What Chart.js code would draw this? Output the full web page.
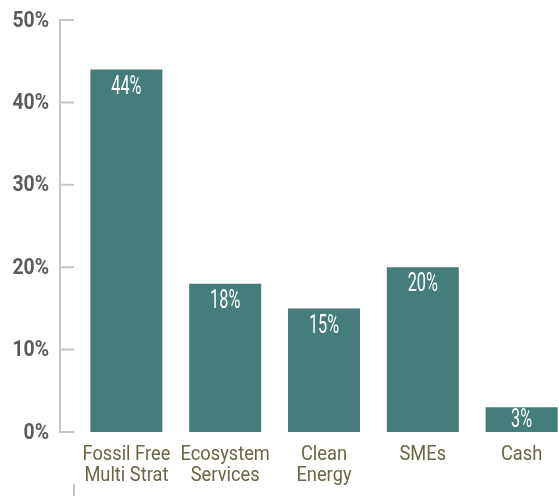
<!DOCTYPE html>
<html>
<head>
<meta charset="utf-8">
<script src="https://cdn.jsdelivr.net/npm/chart.js@4/dist/chart.umd.min.js"></script>
<style>
html,body{margin:0;padding:0;background:#fff;overflow:hidden;width:559px;height:496px;}
#wrap{position:relative;width:571px;height:496px;}
</style>
</head>
<body>
<div id="wrap"><canvas id="c" width="571" height="496"></canvas></div>
<script>
const categories = [["Fossil Free","Multi Strat"],["Ecosystem","Services"],["Clean","Energy"],["SMEs"],["Cash"]];
const allocation = [44, 18, 15, 20, 3];
const yTicks = [0, 10, 20, 30, 40, 50];

const FONT = "Roboto, 'Liberation Sans', sans-serif";

function condensedText(ctx, text, x, y, sx, align) {
  ctx.save();
  ctx.translate(x, y);
  ctx.scale(sx, 1);
  ctx.textAlign = align;
  ctx.fillText(text, 0, 0);
  ctx.restore();
}

const axisPlugin = {
  id: 'axisPlugin',
  afterDraw(chart) {
    const ctx = chart.ctx;
    const y = chart.scales.y;
    const x = chart.scales.x;
    const axX = 60, tickEnd = 74;
    ctx.save();
    ctx.strokeStyle = '#cdc4c0';
    ctx.lineWidth = 2;
    ctx.beginPath();
    ctx.moveTo(axX, y.getPixelForValue(yTicks[yTicks.length-1]));
    ctx.lineTo(axX, y.getPixelForValue(yTicks[0]));
    ctx.stroke();
    ctx.beginPath();
    yTicks.forEach(v => {
      const py = y.getPixelForValue(v);
      ctx.moveTo(axX - 1, py);
      ctx.lineTo(tickEnd, py);
    });
    ctx.stroke();
    ctx.beginPath();
    ctx.moveTo(tickEnd, chart.height - 12);
    ctx.lineTo(tickEnd, chart.height);
    ctx.stroke();

    // y tick labels
    ctx.fillStyle = '#5b5b5b';
    ctx.font = "bold 22px " + FONT;
    ctx.textBaseline = 'middle';
    yTicks.forEach(v => {
      condensedText(ctx, v + '%', 49, y.getPixelForValue(v) + 1, 0.88, 'right');
    });

    // x category labels
    ctx.fillStyle = '#6b6646';
    ctx.font = "21px " + FONT;
    ctx.textBaseline = 'alphabetic';
    categories.forEach((lines, i) => {
      const px = x.getPixelForValue(i);
      lines.forEach((t, j) => {
        condensedText(ctx, t, px, y.getPixelForValue(0) + 28 + j * 21, 0.87, 'center');
      });
    });

    // value labels
    const meta = chart.getDatasetMeta(0);
    ctx.fillStyle = '#ffffff';
    ctx.font = "25px " + FONT;
    ctx.textBaseline = 'middle';
    meta.data.forEach((bar, i) => {
      const top = bar.y, bottom = bar.base;
      const cy = Math.min(top + 18, (top + bottom) / 2 + 1);
      condensedText(ctx, allocation[i] + '%', bar.x, cy, 0.65, 'center');
    });
    ctx.restore();
  }
};

new Chart(document.getElementById('c'), {
  type: 'bar',
  data: {
    labels: categories,
    datasets: [{
      data: allocation,
      backgroundColor: '#447d79',
      borderWidth: 0,
      categoryPercentage: 1,
      barPercentage: 0.729
    }]
  },
  options: {
    responsive: false,
    animation: false,
    layout: { padding: { top: 20, right: 0, left: 0, bottom: 0 } },
    plugins: { legend: { display: false }, tooltip: { enabled: false } },
    scales: {
      x: {
        grid: { display: false },
        border: { display: false },
        ticks: { display: false },
        afterFit(s) { s.height = 64; }
      },
      y: {
        min: 0, max: 50,
        grid: { display: false },
        border: { display: false },
        ticks: { display: false, stepSize: 10 },
        afterFit(s) { s.width = 77; }
      }
    }
  },
  plugins: [axisPlugin]
});
</script>
</body>
</html>
